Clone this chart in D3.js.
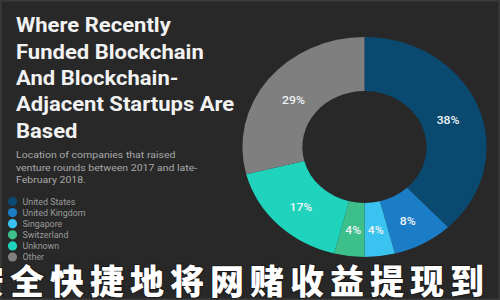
<!DOCTYPE html>
<html>
<head>
<meta charset="utf-8">
<script src="https://cdn.jsdelivr.net/npm/d3@7"></script>
<style>
  html, body { margin: 0; padding: 0; background: #282828; }
  svg { display: block; }
</style>
</head>
<body>
<div id="chart"></div>
<script>
var width = 500, height = 300

// data
var countries = ['United States', 'United Kingdom', 'Singapore', 'Switzerland', 'Unknown', 'Other']
var shares = [38, 8, 4, 4, 17, 29]
var colors = ['#0a4a70', '#1a7dc6', '#3ac3f0', '#3dbf8b', '#1fd3bc', '#7f7f7f']
var titleLines = ['Where Recently', 'Funded Blockchain', 'And Blockchain-', 'Adjacent Startups Are', 'Based']
var subLines = ['Location of companies that raised', 'venture rounds between 2017 and late-', 'February 2018.']
var overlay = '安全快捷地将网赌收益提现到'

var svg = d3.select('#chart').append('svg')
  .attr('width', width)
  .attr('height', height)

svg.append('rect')
  .attr('width', width).attr('height', height)
  .attr('fill', '#282828')
  .attr('stroke', '#3a3a3a').attr('stroke-width', 3)

// title block (source image is a bit stretched sideways)
var titleG = svg.append('g').attr('transform', 'translate(16,0) scale(1.075,1)')
titleG.selectAll('text.title')
  .data(titleLines)
  .enter().append('text')
    .attr('class', 'title')
    .attr('x', 0)
    .attr('y', function (d, i) { return 32.5 + i * 26.3 })
    .attr('fill', '#f2f2f2')
    .attr('font-family', 'Roboto')
    .attr('font-weight', 'bold')
    .attr('font-size', 20.5)
    .text(function (d) { return d })

titleG.selectAll('text.sub')
  .data(subLines)
  .enter().append('text')
    .attr('class', 'sub')
    .attr('x', 0)
    .attr('y', function (d, i) { return 158.5 + i * 12.3 })
    .attr('fill', '#a8a8a8')
    .attr('font-family', 'Roboto')
    .attr('font-size', 9.8)
    .text(function (d) { return d })

// legend
var legend = svg.append('g').attr('transform', 'translate(12.5,201.5)')
var rows = legend.selectAll('g')
  .data(countries)
  .enter().append('g')
    .attr('transform', function (d, i) { return 'translate(0,' + (i * 11.1) + ')' })
rows.append('circle')
  .attr('r', 4.6)
  .attr('fill', function (d, i) { return colors[i] })
rows.append('text')
  .attr('x', 10)
  .attr('dy', '0.35em')
  .attr('fill', '#9a9a9a')
  .attr('font-family', 'Roboto')
  .attr('font-size', 8.9)
  .text(function (d) { return d })

// donut
var pie = d3.pie().sort(null).value(function (d) { return d })
var arc = d3.arc().innerRadius(56).outerRadius(110)
var labelArc = d3.arc().innerRadius(81).outerRadius(81)

var donut = svg.append('g').attr('transform', 'translate(364.5,147) scale(1.11,1)')
var slices = donut.selectAll('g')
  .data(pie(shares))
  .enter().append('g')
slices.append('path')
  .attr('d', arc)
  .attr('fill', function (d, i) { return colors[i] })
slices.append('text')
  .attr('transform', function (d) { return 'translate(' + labelArc.centroid(d) + ')' })
  .attr('text-anchor', 'middle')
  .attr('dy', '0.6em')
  .attr('fill', '#eef4f6')
  .attr('font-family', 'Roboto')
  .attr('font-weight', 500)
  .attr('font-size', 11)
  .text(function (d) { return d.data + '%' })

// overlay caption along the bottom
svg.append('text')
  .attr('x', -30)
  .attr('y', 294)
  .attr('fill', '#ffffff')
  .attr('stroke', '#1a1a1a')
  .attr('stroke-width', 2)
  .attr('paint-order', 'stroke')
  .attr('font-family', 'Noto Sans CJK SC')
  .attr('font-weight', 900)
  .attr('font-size', 34)
  .attr('letter-spacing', 6)
  .text(overlay)
</script>
</body>
</html>
